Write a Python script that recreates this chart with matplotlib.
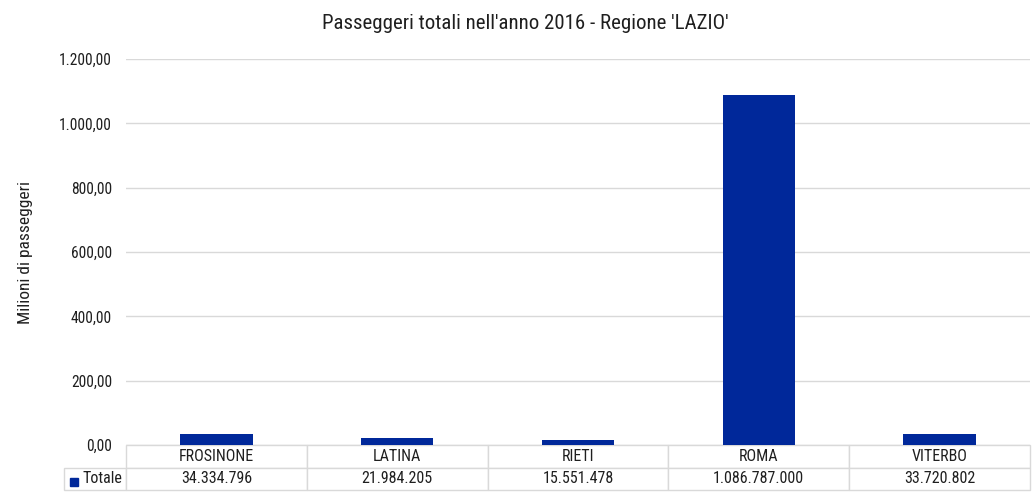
import matplotlib
matplotlib.use("Agg")
import matplotlib.pyplot as plt
from matplotlib.patches import Rectangle
from matplotlib.table import Table

plt.rcParams['font.family'] = ['Roboto Condensed', 'Liberation Sans Narrow', 'Roboto', 'DejaVu Sans']

province = ['FROSINONE', 'LATINA', 'RIETI', 'ROMA', 'VITERBO']
passeggeri = [34334796, 21984205, 15551478, 1086787000, 33720802]
yticks = [0, 200, 400, 600, 800, 1000, 1200]

blu = '#00289A'
grigio = '#d9d9d9'
testo = '#1f1f1f'


def fmt_it(v, dec=0):
    s = f"{v:,.{dec}f}"
    return s.replace(',', 'X').replace('.', ',').replace('X', '.')


milioni = [p / 1e6 for p in passeggeri]

fig = plt.figure(figsize=(10.32, 4.97), dpi=100)
ax = fig.add_axes([126 / 1032, 1 - 445 / 497, 904 / 1032, 386 / 497])

x = range(len(province))
ax.bar(x, milioni, width=0.4, color=blu, zorder=3)
ax.set_xlim(-0.5, len(province) - 0.5)
ax.set_ylim(0, 1200)
ax.set_yticks(yticks)
ax.set_yticklabels([fmt_it(t, 2) for t in yticks], fontsize=11.2, color=testo)
ax.tick_params(axis='y', length=0, pad=10)
ax.set_xticks([])
ax.grid(axis='y', color=grigio, linewidth=1, zorder=0)
for s in ax.spines.values():
    s.set_visible(False)

ax.set_ylabel('Milioni di passeggeri', fontsize=12.5, color=testo)
ax.yaxis.set_label_coords(-0.103, 0.5)

# tabella dati sotto il grafico
rw = 62 / 904
th = 45 / 386
cw = 1 / len(province)
tab = Table(ax, bbox=[-rw, -th, 1 + rw, th])
tab.auto_set_font_size(False)
for i, nome in enumerate(province):
    tab.add_cell(0, i + 1, cw, 0.5, text=nome, loc='center', edgecolor=grigio)
    tab.add_cell(1, i + 1, cw, 0.5, text=fmt_it(passeggeri[i]), loc='center',
                 edgecolor=grigio)
lab = tab.add_cell(1, 0, rw, 0.5, text='Totale', loc='right', edgecolor=grigio)
lab.PAD = 0.06
# cella vuota in alto a sinistra, senza bordi
vuota = tab.add_cell(0, 0, rw, 0.5, text='', edgecolor='none')
vuota.set_facecolor('none')
for cell in tab.get_celld().values():
    cell.set_linewidth(1)
    cell.get_text().set_fontsize(11.5)
    cell.get_text().set_color(testo)
ax.add_table(tab)

ax.add_patch(Rectangle((-0.0625, -0.106), 8 / 904, 8 / 386, color=blu,
                       transform=ax.transAxes, clip_on=False))

fig.text(0.509, 0.952, "Passeggeri totali nell'anno 2016 - Regione 'LAZIO'",
         ha='center', va='center', fontsize=15, color=testo)

fig.savefig('out.png', dpi=100)
